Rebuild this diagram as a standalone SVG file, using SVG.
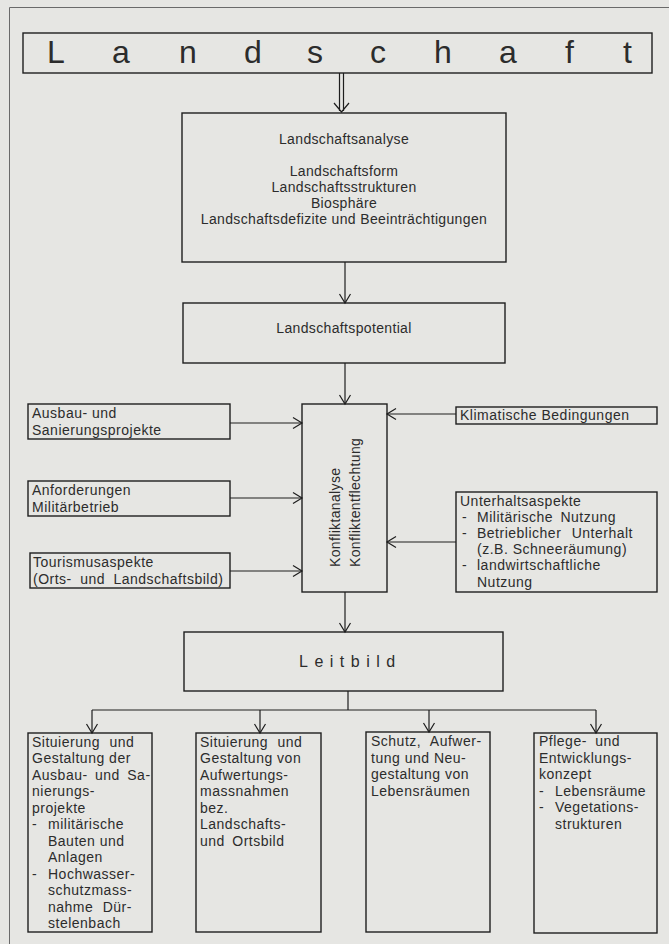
<svg xmlns="http://www.w3.org/2000/svg" width="669" height="944" viewBox="0 0 669 944">
<style>
.bg{fill:#e6e6e3}
.frame{fill:none;stroke:#6a6a6a;stroke-width:1}
.box{fill:none;stroke:#1e1e1e;stroke-width:1.4}
.ln{fill:none;stroke:#1e1e1e;stroke-width:1.2}
text{font-family:"Liberation Sans",Arial,sans-serif;fill:#2c2c2c}
.t14{font-size:14px;letter-spacing:0.5px}
.ta{font-size:14px;letter-spacing:0.35px}
.title{font-size:32px}
.lb{font-size:16px;letter-spacing:6.5px}
</style>
<defs>
<marker id="arr" markerUnits="userSpaceOnUse" markerWidth="12" markerHeight="14" viewBox="0 0 12 14" refX="10" refY="7" orient="auto">
<path d="M1,1.5 L10,7 L1,12.5" fill="none" stroke="#1e1e1e" stroke-width="1.2"/>
</marker>
</defs>
<rect class="bg" x="0" y="0" width="669" height="944"/>
<path class="frame" d="M9.5,944 L9.5,7.5 L669,7.5"/>

<g id="connectors">
<path class="ln" d="M339.5,73 L339.5,111 M343.5,73 L343.5,111 M334,103 L341.5,112 L349,103"/>
<path class="ln" d="M345,262 L345,303" marker-end="url(#arr)"/>
<path class="ln" d="M345,363 L345,404" marker-end="url(#arr)"/>
<path class="ln" d="M230,423 L302,423" marker-end="url(#arr)"/>
<path class="ln" d="M230,498 L302,498" marker-end="url(#arr)"/>
<path class="ln" d="M230,571 L302,571" marker-end="url(#arr)"/>
<path class="ln" d="M456,414 L387,414" marker-end="url(#arr)"/>
<path class="ln" d="M456,542 L387,542" marker-end="url(#arr)"/>
<path class="ln" d="M345,592 L345,632" marker-end="url(#arr)"/>
<path class="ln" d="M348,691 L348,710 M92,710 L596,710"/>
<path class="ln" d="M92,710 L92,733" marker-end="url(#arr)"/>
<path class="ln" d="M260,710 L260,733" marker-end="url(#arr)"/>
<path class="ln" d="M429,710 L429,732" marker-end="url(#arr)"/>
<path class="ln" d="M596,710 L596,733" marker-end="url(#arr)"/>
</g>

<g id="landschaft">
<rect class="box" x="23" y="33" width="629" height="40"/>
<text class="title" x="47 112 179 244 307 370 434 499 565 623" y="63">Landschaft</text>
</g>

<g id="landschaftsanalyse">
<rect class="box" x="182" y="113" width="324" height="149"/>
<text class="ta" text-anchor="middle" x="344" y="144">Landschaftsanalyse</text>
<text class="ta" text-anchor="middle" x="344" y="176">Landschaftsform</text>
<text class="ta" text-anchor="middle" x="344" y="192">Landschaftsstrukturen</text>
<text class="ta" text-anchor="middle" x="344" y="208">Biosphäre</text>
<text class="ta" text-anchor="middle" x="344" y="224">Landschaftsdefizite und Beeinträchtigungen</text>
</g>

<g id="landschaftspotential">
<rect class="box" x="183" y="303" width="322" height="60"/>
<text class="ta" text-anchor="middle" x="344" y="333">Landschaftspotential</text>
</g>

<g id="konflikt">
<rect class="box" x="302" y="404" width="85" height="188"/>
<text class="ta" transform="translate(340,567) rotate(-90)">Konfliktanalyse</text>
<text class="ta" transform="translate(360,567) rotate(-90)">Konfliktentflechtung</text>
</g>

<g id="ausbau">
<rect class="box" x="28" y="404" width="202" height="35"/>
<text class="t14" x="32" y="418">Ausbau- und</text>
<text class="t14" x="32" y="435">Sanierungsprojekte</text>
</g>

<g id="militaer">
<rect class="box" x="28" y="481" width="202" height="35"/>
<text class="t14" x="32" y="495">Anforderungen</text>
<text class="t14" x="32" y="512">Militärbetrieb</text>
</g>

<g id="tourismus">
<rect class="box" x="30" y="553" width="200" height="35"/>
<text class="t14" x="33" y="567">Tourismusaspekte</text>
<text class="t14" x="33" y="584" word-spacing="4">(Orts- und Landschaftsbild)</text>
</g>

<g id="klima">
<rect class="box" x="456" y="407" width="201" height="17"/>
<text class="t14" x="460" y="420">Klimatische Bedingungen</text>
</g>

<g id="unterhalt">
<rect class="box" x="456" y="492" width="201" height="100"/>
<text class="t14" x="460" y="506">Unterhaltsaspekte</text>
<text class="t14" x="462" y="522">-</text><text class="t14" x="477" y="522" word-spacing="3">Militärische Nutzung</text>
<text class="t14" x="462" y="538">-</text><text class="t14" x="477" y="538" word-spacing="6">Betrieblicher Unterhalt</text>
<text class="t14" x="477" y="554">(z.B. Schneeräumung)</text>
<text class="t14" x="462" y="570">-</text><text class="t14" x="477" y="570">landwirtschaftliche</text>
<text class="t14" x="477" y="587">Nutzung</text>
</g>

<g id="leitbild">
<rect class="box" x="184" y="632" width="319" height="59"/>
<text class="lb" x="299" y="667">Leitbild</text>
</g>

<g id="situierung-ausbau">
<rect class="box" x="28" y="733" width="124" height="199"/>
<text class="t14" x="32" y="747" word-spacing="5">Situierung und</text>
<text class="t14" x="32" y="763">Gestaltung der</text>
<text class="t14" x="32" y="780" word-spacing="3">Ausbau- und Sa-</text>
<text class="t14" x="32" y="796">nierungs-</text>
<text class="t14" x="32" y="813">projekte</text>
<text class="t14" x="32" y="829">-</text><text class="t14" x="48" y="829">militärische</text>
<text class="t14" x="48" y="846">Bauten und</text>
<text class="t14" x="48" y="862">Anlagen</text>
<text class="t14" x="32" y="879">-</text><text class="t14" x="48" y="879">Hochwasser-</text>
<text class="t14" x="48" y="895">schutzmass-</text>
<text class="t14" x="48" y="912" word-spacing="5">nahme Dür-</text>
<text class="t14" x="48" y="928">stelenbach</text>
</g>

<g id="situierung-aufwertung">
<rect class="box" x="196" y="733" width="125" height="199"/>
<text class="t14" x="200" y="747" word-spacing="5">Situierung und</text>
<text class="t14" x="200" y="763">Gestaltung von</text>
<text class="t14" x="200" y="780">Aufwertungs-</text>
<text class="t14" x="200" y="796">massnahmen</text>
<text class="t14" x="200" y="813">bez.</text>
<text class="t14" x="200" y="829">Landschafts-</text>
<text class="t14" x="200" y="846" word-spacing="3">und Ortsbild</text>
</g>

<g id="schutz">
<rect class="box" x="366" y="732" width="124" height="200"/>
<text class="t14" x="371" y="746" word-spacing="5">Schutz, Aufwer-</text>
<text class="t14" x="371" y="763">tung und Neu-</text>
<text class="t14" x="371" y="779">gestaltung von</text>
<text class="t14" x="371" y="796">Lebensräumen</text>
</g>

<g id="pflege">
<rect class="box" x="534" y="733" width="123" height="200"/>
<text class="t14" x="539" y="746" word-spacing="4">Pflege- und</text>
<text class="t14" x="539" y="763">Entwicklungs-</text>
<text class="t14" x="539" y="779">konzept</text>
<text class="t14" x="539" y="796">-</text><text class="t14" x="555" y="796">Lebensräume</text>
<text class="t14" x="539" y="812">-</text><text class="t14" x="555" y="812">Vegetations-</text>
<text class="t14" x="555" y="829">strukturen</text>
</g>
</svg>
